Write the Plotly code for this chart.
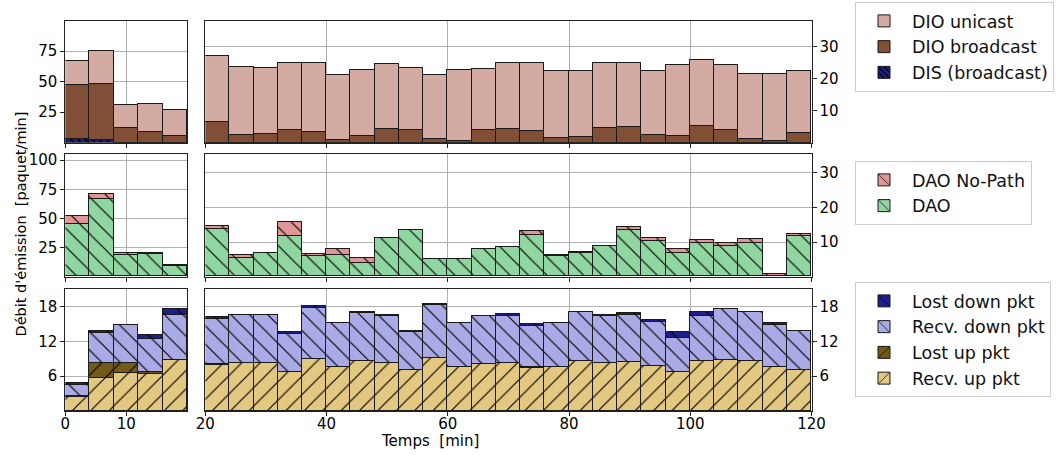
import plotly.graph_objects as go

FONT = "DejaVu Sans"
W, H = 1056, 455

# ---------------- data ----------------
# bin centres (4-minute bins)
t_left = [2, 6, 10, 14, 18]
t_right = [22, 26, 30, 34, 38, 42, 46, 50, 54, 58, 62, 66, 70, 74, 78,
           82, 86, 90, 94, 98, 102, 106, 110, 114, 118]

# row 1 : DIO / DIS
dis_left = [3.6, 2.8, 0.0, 0.0, 0.0]
dio_bc_left = [43.7, 45.6, 12.7, 9.4, 6.1]
dio_uc_left = [20.1, 27.0, 18.1, 22.3, 20.9]

dis_right = [0.0] * 25
dio_bc_right = [6.5, 2.5, 2.7, 4.0, 3.3, 1.0, 2.3, 4.3, 3.9, 1.4, 0.6, 3.9, 4.4,
                3.6, 1.6, 1.9, 4.6, 4.9, 2.6, 2.1, 5.3, 3.9, 1.1, 0.7, 3.1]
dio_uc_right = [20.7, 21.3, 20.7, 21.0, 21.7, 20.2, 20.4, 20.2, 19.5, 19.8, 22.1,
                19.3, 20.4, 21.2, 20.9, 20.4, 20.4, 20.1, 19.9, 22.2, 20.6, 20.4,
                20.5, 20.9, 19.2]

# row 2 : DAO
dao_left = [44.8, 66.7, 18.7, 19.3, 8.6]
dao_np_left = [6.6, 4.0, 1.4, 0.8, 0.9]

dao_right = [13.7, 5.4, 6.7, 11.6, 5.9, 6.25, 3.9, 11.0, 13.3, 5.1, 4.9, 7.8, 8.5,
             12.1, 5.9, 6.9, 8.8, 13.5, 10.3, 6.9, 9.8, 8.9, 9.8, 0.0, 11.6]
dao_np_right = [0.8, 0.7, 0.1, 4.0, 0.7, 1.55, 1.3, 0.0, 0.0, 0.0, 0.0, 0.0, 0.0,
                0.9, 0.2, 0.2, 0.1, 0.8, 0.95, 0.9, 0.7, 0.9, 0.9, 0.7, 0.8]

# row 3 : packets
recv_up_left = [2.4, 5.6, 6.5, 6.3, 8.7]
lost_up_left = [0.15, 2.6, 1.7, 0.5, 0.1]
recv_down_left = [1.9, 5.3, 6.6, 5.6, 7.7]
lost_down_left = [0.3, 0.3, 0.0, 0.7, 1.0]

recv_up_right = [8.0, 8.2, 8.3, 6.8, 9.0, 7.6, 8.6, 8.2, 7.1, 9.1, 7.6, 8.1, 8.2,
                 7.4, 7.6, 8.6, 8.3, 8.4, 7.7, 6.8, 8.6, 8.8, 8.6, 7.6, 7.0]
lost_up_right = [0.05, 0, 0, 0, 0, 0, 0, 0, 0, 0, 0, 0, 0, 0.15, 0, 0, 0, 0.1,
                 0, 0, 0, 0, 0, 0, 0.05]
recv_down_right = [7.75, 8.3, 8.2, 6.5, 8.7, 7.5, 8.3, 8.2, 6.5, 9.2, 7.5, 8.2, 8.2,
                   7.15, 7.5, 8.5, 8.0, 8.0, 7.7, 5.8, 7.7, 8.7, 8.4, 7.2, 6.75]
lost_down_right = [0.3, 0.1, 0.1, 0.3, 0.4, 0.0, 0.2, 0.2, 0.15, 0.1, 0.0, 0.0, 0.3,
                   0.2, 0.0, 0.0, 0.2, 0.4, 0.2, 1.0, 0.8, 0.0, 0.1, 0.3, 0.0]

x_ticks_left = [0, 10]
x_ticks_right = [20, 40, 60, 80, 100, 120]

# ---------------- styles ----------------
C_DIO_UC = "#d4aba3"
C_DIO_BC = "#814e36"
C_DIS = "#1f1f8a"
C_DAO_NP = "#e09696"
C_DAO = "#8fd6a1"
C_LOST_DOWN = "#1e1e8c"
C_RECV_DOWN = "#aaaae6"
C_LOST_UP = "#735a18"
C_RECV_UP = "#e2c880"

EDGE = "#1a1a1a"


def pat(shape, size=13, solidity=0.09):
    if shape is None:
        return dict(shape="")
    return dict(shape=shape, size=size, solidity=solidity, fillmode="overlay",
                fgcolor="black", fgopacity=1)


def bar(x, y, name, color, shape, xa, ya, legend, show, size=13, solidity=0.09):
    return go.Bar(
        x=x, y=y, width=4, name=name, xaxis=xa, yaxis=ya,
        legend=legend, showlegend=show, legendgroup=name,
        marker=dict(color=color, line=dict(color=EDGE, width=1),
                    pattern=pat(shape, size, solidity)),
        hoverinfo="x+y+name",
    )


fig = go.Figure()

# row 1
for xs, axes, vals, show in [
    (t_left, ("x", "y"), (dis_left, dio_bc_left, dio_uc_left), False),
    (t_right, ("x2", "y2"), (dis_right, dio_bc_right, dio_uc_right), True),
]:
    fig.add_trace(bar(xs, vals[0], "DIS (broadcast)", C_DIS, "\\", *axes, "legend", show, size=5, solidity=0.3))
    fig.add_trace(bar(xs, vals[1], "DIO broadcast", C_DIO_BC, None, *axes, "legend", show))
    fig.add_trace(bar(xs, vals[2], "DIO unicast", C_DIO_UC, None, *axes, "legend", show))

# row 2
for xs, axes, vals, show in [
    (t_left, ("x3", "y3"), (dao_left, dao_np_left), False),
    (t_right, ("x4", "y4"), (dao_right, dao_np_right), True),
]:
    fig.add_trace(bar(xs, vals[0], "DAO", C_DAO, "\\", *axes, "legend2", show))
    fig.add_trace(bar(xs, vals[1], "DAO No-Path", C_DAO_NP, "\\", *axes, "legend2", show))

# row 3
for xs, axes, vals, show in [
    (t_left, ("x5", "y5"), (recv_up_left, lost_up_left, recv_down_left, lost_down_left), False),
    (t_right, ("x6", "y6"), (recv_up_right, lost_up_right, recv_down_right, lost_down_right), True),
]:
    fig.add_trace(bar(xs, vals[0], "Recv. up pkt", C_RECV_UP, "/", *axes, "legend3", show))
    fig.add_trace(bar(xs, vals[1], "Lost up pkt", C_LOST_UP, "/", *axes, "legend3", show))
    fig.add_trace(bar(xs, vals[2], "Recv. down pkt", C_RECV_DOWN, "\\", *axes, "legend3", show))
    fig.add_trace(bar(xs, vals[3], "Lost down pkt", C_LOST_DOWN, "\\", *axes, "legend3", show))

# ---------------- layout ----------------
XL = [65.3 / W, 187.3 / W]
XR = [205.3 / W, 811.5 / W]
ROWS = [(20.7, 142.7), (154.3, 276.7), (289.0, 411.0)]


def ydom(r):
    top, bot = ROWS[r]
    return [1 - bot / H, 1 - top / H]


tickfont = dict(family=FONT, size=15, color="black")
common = dict(showline=True, mirror=True, linecolor="#222", linewidth=1,
              ticks="outside", ticklen=4, tickcolor="#222", tickwidth=1,
              showgrid=True, gridcolor="#b0b0b0", gridwidth=1, zeroline=False,
              tickfont=tickfont, automargin=False, layer="below traces")

layout = dict(
    width=W, height=H, margin=dict(l=0, r=0, t=0, b=0),
    paper_bgcolor="white", plot_bgcolor="white", barmode="stack", bargap=0,
    font=dict(family=FONT, color="black"),
)

ranges_left = [(0, 100), (0, 105), (0, 21)]
ranges_right = [(0, 38), (0, 35.4), (0, 21)]
ticks_left = [[25, 50, 75], [25, 50, 75, 100], [6, 12, 18]]
ticks_right = [[10, 20, 30], [10, 20, 30], [6, 12, 18]]

for r in range(3):
    il = 2 * r + 1
    ir = 2 * r + 2
    nl = "" if il == 1 else str(il)
    nr = str(ir)
    last = r == 2
    layout["xaxis" + nl] = dict(common, domain=XL, range=[0, 20], anchor="y" + nl,
                                tickvals=x_ticks_left, showticklabels=last,
                                ticklabelstandoff=-5)
    layout["xaxis" + nr] = dict(common, domain=XR, range=[20, 120], anchor="y" + nr,
                                tickvals=x_ticks_right, showticklabels=last,
                                ticklabelstandoff=-5)
    layout["yaxis" + nl] = dict(common, domain=ydom(r), range=list(ranges_left[r]),
                                anchor="x" + nl, tickvals=ticks_left[r], side="left")
    layout["yaxis" + nr] = dict(common, domain=ydom(r), range=list(ranges_right[r]),
                                anchor="x" + nr, tickvals=ticks_right[r], side="right")

legend_common = dict(
    xanchor="left", yanchor="top", bgcolor="white", bordercolor="#cccccc",
    borderwidth=1, font=dict(family=FONT, size=17.5, color="#111"),
    traceorder="reversed", itemwidth=46,
)
layout["legend"] = dict(legend_common, x=855 / W, y=1 - 2 / H)
layout["legend2"] = dict(legend_common, x=855 / W, y=1 - 161 / H)
layout["legend3"] = dict(legend_common, x=855 / W, y=1 - 282 / H)

layout["annotations"] = [
    dict(text="Débit d'émission \u00a0[paquet/min]", textangle=-90,
         x=20 / W, y=1 - 224.5 / H, xref="paper", yref="paper",
         showarrow=False, font=dict(family=FONT, size=14.5, color="black"),
         xanchor="center", yanchor="middle"),
    dict(text="Temps \u00a0[min]", x=430 / W, y=1 - 441 / H,
         xref="paper", yref="paper", showarrow=False,
         font=dict(family=FONT, size=15, color="black"),
         xanchor="center", yanchor="middle"),
]

fig.update_layout(layout)
fig.write_html("out.html")
